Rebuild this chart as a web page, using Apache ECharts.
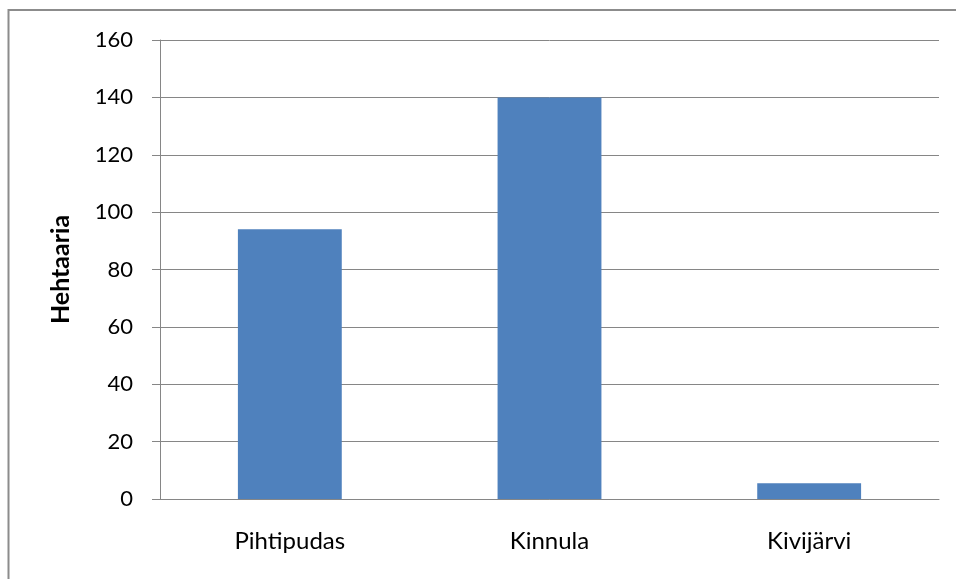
<!DOCTYPE html>
<html><head><meta charset="utf-8">
<script src="https://cdn.jsdelivr.net/npm/echarts@6/dist/echarts.min.js"></script>
<style>html,body{margin:0;padding:0;background:#fff}#c{width:956px;height:579px}</style>
</head><body><div id="c"></div>
<script>
const categories = ['Pihtipudas', 'Kinnula', 'Kivijärvi'];
const values = [94, 140, 5.5];
const yTicks = [0, 20, 40, 60, 80, 100, 120, 140, 160];
const yAxisName = 'Hehtaaria';

const chart = echarts.init(document.getElementById('c'));
chart.setOption({
  animation: false,
  textStyle: {fontFamily: 'Lato'},
  graphic: [{type: 'rect', shape: {x: 8.5, y: 10, width: 980, height: 600}, style: {fill: 'none', stroke: '#8c8c8c', lineWidth: 2}, silent: true}],
  grid: {left: 160, right: 17, top: 40, bottom: 80},
  xAxis: {
    type: 'category', data: categories,
    axisLine: {lineStyle: {color: '#868686', width: 1}},
    axisTick: {show: false},
    axisLabel: {color: '#000', fontSize: 24, margin: 30, fontFamily: 'Lato'}
  },
  yAxis: {
    type: 'value', min: yTicks[0], max: yTicks[yTicks.length - 1], interval: 20,
    name: yAxisName, nameLocation: 'middle', nameGap: 87,
    nameTextStyle: {color: '#000', fontSize: 25, fontWeight: 'bold', fontFamily: 'Lato'},
    axisLine: {show: true, lineStyle: {color: '#868686', width: 1}},
    axisTick: {show: true, inside: false, length: 8, lineStyle: {color: '#868686'}},
    axisLabel: {color: '#000', fontSize: 22, margin: 27, fontFamily: 'Lato'},
    splitLine: {lineStyle: {color: '#868686', width: 1}}
  },
  series: [{
    type: 'bar', data: values, barCategoryGap: '60%',
    itemStyle: {color: '#4f81bd'}
  }]
});
</script></body></html>
